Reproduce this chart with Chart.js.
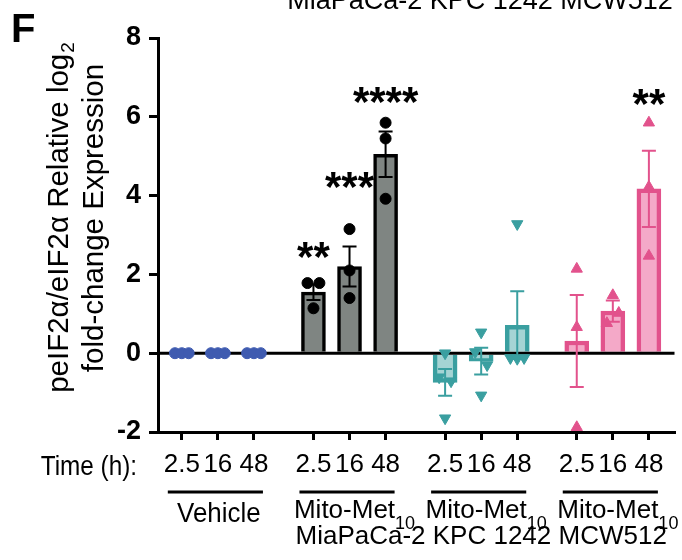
<!DOCTYPE html>
<html>
<head>
<meta charset="utf-8">
<script src="https://cdn.jsdelivr.net/npm/chart.js@4.4.1/dist/chart.umd.min.js"></script>
<style>
  html, body { margin: 0; padding: 0; background: #fff; }
  canvas { display: block; }
</style>
</head>
<body>
<canvas id="chart" width="682" height="560"></canvas>
<script>
// Dados (painel F)
var times = ['2.5', '16', '48'];
var treatments = ['Vehicle', 'Mito-Met', 'Mito-Met', 'Mito-Met'];
var doses = ['', '10', '10', '10'];
var cellLines = ['MiaPaCa-2', 'KPC 1242', 'MCW512'];

// media e SEM de cada barra (Vehicle 2.5/16/48, MiaPaCa, KPC, MCW)
var means = [0, 0, 0, 1.55, 2.2, 5.05, -0.74, -0.2, 0.71, 0.31, 1.07, 4.17];
var sems = [0, 0, 0, 0.2, 0.51, 0.58, 0.34, 0.34, 0.86, 1.17, 0.27, 0.97];

// replicatas individuais
var replicates = [
    [0, 0, 0], [0, 0, 0], [0, 0, 0],
    [1.78, 1.14, 1.78], [3.15, 2.1, 1.4], [5.85, 5.45, 3.92],
    [0.0, -0.61, -0.71, -1.65], [0.53, 0.03, -0.3, -1.07], [3.28, -0.12, -0.14, -0.12],
    [2.14, 0.66, -1.88], [1.47, 0.76, 1.02], [5.85, 4.22, 2.47]
];

// significancia
var stars = ['', '', '', '**', '***', '****', '', '', '', '', '', '**'];
var starLevels = [0, 0, 0, 2.66, 4.44, 6.6, 0, 0, 0, 0, 0, 6.55];

var yTicks = [-2, 0, 2, 4, 6, 8];

// estilos por grupo
var groupFill = ['#3f5bb0', '#7f8582', '#a5d4d4', '#f4a9c8'];
var groupLine = ['#3f5bb0', '#000000', '#3a9fa0', '#e2528c'];
var groupBorder = [0, 3.5, 4.5, 4.5];
var groupPoint = ['circle', 'circle', 'triangle', 'triangle'];
var groupRotation = [0, 0, 180, 0];
var groupRadius = [5.5, 5.5, 6.5, 6.5];

var GROUP_STEP = 3.65;
var FAMILY = '"Liberation Sans", Arial, sans-serif';

function font(weight, size) {
    return weight + ' ' + size + 'px ' + FAMILY;
}

// texto levemente condensado, como na figura original
function squeezed(ctx, text, x, y, sx) {
    ctx.save();
    ctx.translate(x, y);
    ctx.scale(sx, 1);
    ctx.fillText(text, 0, 0);
    ctx.restore();
}

// posicao de cada barra no eixo x
var positions = [];
var barGroup = [];
for (var g = 0; g < treatments.length; g++) {
    for (var t = 0; t < times.length; t++) {
        positions.push(g * GROUP_STEP + t);
        barGroup.push(g);
    }
}

// espalha pontos que se sobrepoem, como o Prism faz
function spreadPoints(values, x) {
    var clusters = [];
    values.forEach(function (v) {
        var found = null;
        clusters.forEach(function (c) {
            if (!found && c.some(function (u) { return Math.abs(u - v) < 0.35; })) found = c;
        });
        if (found) found.push(v); else clusters.push([v]);
    });
    var out = [];
    clusters.forEach(function (c) {
        var step = c.length > 1 ? Math.min(0.33, 0.38 / (c.length - 1)) : 0;
        c.forEach(function (v, k) {
            out.push({ x: x + (k - (c.length - 1) / 2) * step, y: v });
        });
    });
    return out;
}

var datasets = [{
    type: 'bar',
    order: 2,
    data: positions.map(function (x, i) { return { x: x, y: means[i] }; }),
    backgroundColor: barGroup.map(function (g) { return groupFill[g]; }),
    borderColor: barGroup.map(function (g) { return groupLine[g]; }),
    borderWidth: barGroup.map(function (g) { return groupBorder[g]; }),
    barThickness: 24
}];

for (var gi = 0; gi < treatments.length; gi++) {
    var pts = [];
    positions.forEach(function (x, i) {
        if (barGroup[i] === gi) pts = pts.concat(spreadPoints(replicates[i], x));
    });
    datasets.push({
        type: 'scatter',
        order: 1,
        data: pts,
        pointStyle: groupPoint[gi],
        pointRotation: groupRotation[gi],
        pointRadius: groupRadius[gi],
        pointBackgroundColor: groupLine[gi],
        pointBorderColor: groupLine[gi],
        pointBorderWidth: 1,
        clip: false
    });
}

// linha do zero e barras de erro, desenhadas logo depois das barras
var errorBars = {
    id: 'errorBars',
    afterDatasetDraw: function (chart, args) {
        if (args.index !== 0) return;
        var ctx = chart.ctx, xs = chart.scales.x, ys = chart.scales.y, area = chart.chartArea;
        ctx.save();
        var y0 = ys.getPixelForValue(0);
        ctx.strokeStyle = '#000';
        ctx.lineWidth = 3;
        ctx.beginPath();
        ctx.moveTo(area.left, y0);
        ctx.lineTo(area.right, y0);
        ctx.stroke();
        ctx.lineWidth = 2;
        positions.forEach(function (x, i) {
            if (!sems[i]) return;
            var px = xs.getPixelForValue(x);
            var top = ys.getPixelForValue(means[i] + sems[i]);
            var bot = ys.getPixelForValue(means[i] - sems[i]);
            ctx.strokeStyle = groupLine[barGroup[i]];
            ctx.beginPath();
            ctx.moveTo(px, top); ctx.lineTo(px, bot);
            ctx.moveTo(px - 7, top); ctx.lineTo(px + 7, top);
            ctx.moveTo(px - 7, bot); ctx.lineTo(px + 7, bot);
            ctx.stroke();
        });
        ctx.restore();
    }
};

// textos da figura
var figureText = {
    id: 'figureText',
    afterDraw: function (chart) {
        var ctx = chart.ctx, xs = chart.scales.x, ys = chart.scales.y;
        ctx.save();
        ctx.fillStyle = '#000';
        ctx.strokeStyle = '#000';
        ctx.textBaseline = 'alphabetic';

        // letra do painel e linha cortada do painel de cima
        ctx.font = font('bold', 40);
        ctx.textAlign = 'left';
        ctx.fillText('F', 11, 42);
        ctx.font = font('normal', 27);
        ctx.textAlign = 'center';
        ctx.fillText(cellLines.join(' '), 480, 9);

        // asteriscos
        ctx.font = font('bold', 42);
        stars.forEach(function (s, i) {
            if (!s) return;
            ctx.fillText(s, xs.getPixelForValue(positions[i]), ys.getPixelForValue(starLevels[i]) + 23);
        });

        // titulo do eixo y (duas linhas, girado)
        ctx.save();
        ctx.translate(68, 218);
        ctx.rotate(-Math.PI / 2);
        var main = 'peIF2\u03b1/eIF2\u03b1 Relative log';
        ctx.font = font('normal', 29.5);
        var w1 = ctx.measureText(main).width;
        ctx.font = font('normal', 19);
        var w2 = ctx.measureText('2').width;
        ctx.textAlign = 'left';
        ctx.font = font('normal', 29.5);
        ctx.fillText(main, -(w1 + w2) / 2, 0);
        ctx.font = font('normal', 19);
        ctx.fillText('2', -(w1 + w2) / 2 + w1 + 1, 6);
        ctx.restore();
        ctx.save();
        ctx.translate(103, 218);
        ctx.rotate(-Math.PI / 2);
        ctx.textAlign = 'center';
        ctx.font = font('normal', 29.5);
        ctx.fillText('fold-change Expression', 0, 0);
        ctx.restore();

        // legenda do eixo x
        ctx.font = font('normal', 27);
        ctx.textAlign = 'right';
        squeezed(ctx, 'Time (h):', 137, 475, 0.9);

        ctx.lineWidth = 3;
        for (var g = 0; g < treatments.length; g++) {
            var first = xs.getPixelForValue(positions[g * 3]);
            var last = xs.getPixelForValue(positions[g * 3 + 2]);
            var mid = (first + last) / 2;
            ctx.beginPath();
            ctx.moveTo(first - 14, 492);
            ctx.lineTo(last + 9, 492);
            ctx.stroke();

            if (!doses[g]) {
                ctx.font = font('normal', 27);
                ctx.textAlign = 'center';
                squeezed(ctx, treatments[g], mid + 1, 522, 0.96);
            } else {
                ctx.font = font('normal', 26);
                var wm = ctx.measureText(treatments[g]).width;
                ctx.font = font('normal', 18);
                var wd = ctx.measureText(doses[g]).width;
                var x0 = mid + 5 - (wm + wd) / 2;
                ctx.textAlign = 'left';
                ctx.font = font('normal', 26);
                ctx.fillText(treatments[g], x0, 518);
                ctx.font = font('normal', 18);
                ctx.fillText(doses[g], x0 + wm, 529);
            }
        }
        var c1 = xs.getPixelForValue(positions[4]);
        var c3 = xs.getPixelForValue(positions[10]);
        ctx.font = font('normal', 26);
        ctx.textAlign = 'center';
        ctx.fillText(cellLines.join(' '), (c1 + c3) / 2, 544);
        ctx.restore();
    }
};

document.addEventListener('DOMContentLoaded', function () {
    Chart.defaults.font.family = FAMILY;
    Chart.defaults.color = '#000';
    var ctx = document.getElementById('chart').getContext('2d');
    new Chart(ctx, {
        type: 'bar',
        data: { datasets: datasets },
        plugins: [errorBars, figureText],
        options: {
            responsive: false,
            animation: false,
            devicePixelRatio: 1,
            layout: { padding: { top: 38, right: 4, bottom: 0, left: 0 } },
            plugins: { legend: { display: false }, tooltip: { enabled: false } },
            scales: {
                x: {
                    type: 'linear',
                    offset: false,
                    min: -0.66,
                    max: 13.66,
                    afterBuildTicks: function (scale) {
                        scale.ticks = positions.map(function (v) { return { value: v }; });
                    },
                    afterFit: function (scale) { scale.height = 128; },
                    border: { display: true, color: '#000', width: 3 },
                    grid: { offset: false, drawOnChartArea: false, drawTicks: true, tickLength: 8, color: '#000', lineWidth: 3 },
                    ticks: {
                        autoSkip: false,
                        maxRotation: 0,
                        padding: 9,
                        font: { size: 26 },
                        callback: function (value, index) { return times[index % times.length]; }
                    }
                },
                y: {
                    min: -2,
                    max: 8,
                    afterBuildTicks: function (scale) {
                        scale.ticks = yTicks.map(function (v) { return { value: v }; });
                    },
                    afterFit: function (scale) { scale.width = 158; },
                    border: { display: true, color: '#000', width: 3 },
                    grid: { drawOnChartArea: false, drawTicks: true, tickLength: 9, color: '#000', lineWidth: 3 },
                    ticks: { padding: 8, font: { size: 27, weight: 'bold' } }
                }
            }
        }
    });
});
</script>
</body>
</html>
